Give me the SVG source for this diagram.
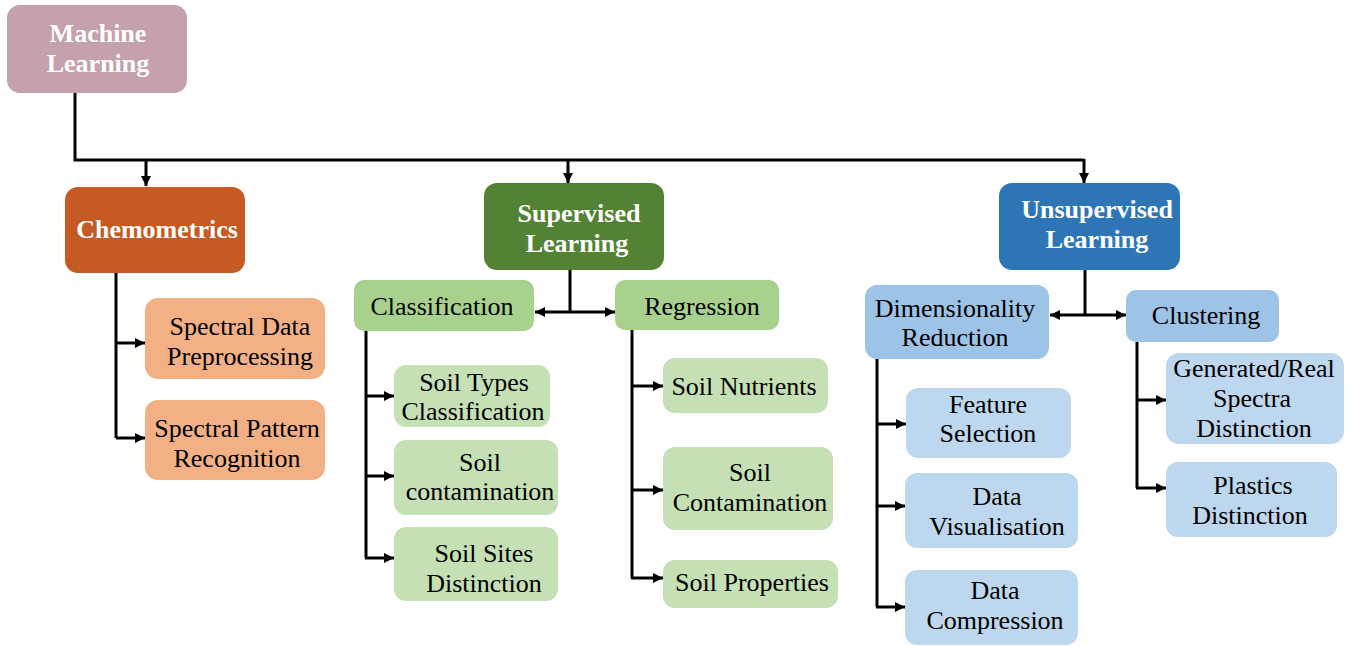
<svg xmlns="http://www.w3.org/2000/svg" width="1361" height="646" viewBox="0 0 1361 646">
<defs>
<marker id="ah" viewBox="0 0 10 10" refX="10" refY="5" markerWidth="3.4" markerHeight="3.4" markerUnits="strokeWidth" orient="auto-start-reverse">
<path d="M0,0 L10,5 L0,10 z" fill="#000"/>
</marker>
</defs>
<style>
.t{font-family:"Liberation Serif","Times New Roman",serif;font-size:26px;fill:#000;text-anchor:middle}
.h{font-family:"Liberation Serif","Times New Roman",serif;font-size:26px;font-weight:bold;fill:#fff;text-anchor:middle}
.c{fill:none;stroke:#000;stroke-width:3}
.a{fill:none;stroke:#000;stroke-width:3;marker-end:url(#ah)}
.d{fill:none;stroke:#000;stroke-width:3;marker-start:url(#ah);marker-end:url(#ah)}
</style>
<rect width="1361" height="646" fill="#fff"/>
<g id="connectors">
<polyline class="c" points="75,93 75,160 1084,160"/>
<line class="a" x1="146" y1="159" x2="146" y2="186"/>
<line class="a" x1="568" y1="159" x2="568" y2="183"/>
<line class="a" x1="1084" y1="159" x2="1084" y2="183"/>
<polyline class="c" points="116,273 116,438"/>
<line class="a" x1="116" y1="343" x2="145" y2="343"/>
<line class="a" x1="116" y1="438" x2="145" y2="438"/>
<line class="c" x1="570" y1="270" x2="570" y2="312"/>
<line class="d" x1="535" y1="312" x2="615" y2="312"/>
<line class="c" x1="366" y1="331" x2="366" y2="558"/>
<line class="a" x1="365" y1="396" x2="394" y2="396"/>
<line class="a" x1="365" y1="476" x2="394" y2="476"/>
<line class="a" x1="365" y1="558" x2="394" y2="558"/>
<line class="c" x1="632" y1="330" x2="632" y2="578"/>
<line class="a" x1="631" y1="386" x2="663" y2="386"/>
<line class="a" x1="631" y1="490" x2="663" y2="490"/>
<line class="a" x1="631" y1="578" x2="663" y2="578"/>
<line class="c" x1="1085" y1="270" x2="1085" y2="315"/>
<line class="d" x1="1050" y1="315" x2="1126" y2="315"/>
<line class="c" x1="877" y1="359" x2="877" y2="607"/>
<line class="a" x1="876" y1="424" x2="906" y2="424"/>
<line class="a" x1="876" y1="506" x2="905" y2="506"/>
<line class="a" x1="876" y1="607" x2="905" y2="607"/>
<line class="c" x1="1137" y1="342" x2="1137" y2="488"/>
<line class="a" x1="1136" y1="400" x2="1166" y2="400"/>
<line class="a" x1="1136" y1="488" x2="1166" y2="488"/>
</g>
<g id="machine-learning"><rect x="7" y="5" width="180" height="88" rx="13" fill="#c5a0ad"/><text class="h" x="98" y="42">Machine</text><text class="h" x="98" y="72">Learning</text></g>
<g id="chemometrics"><rect x="65" y="187" width="180" height="86" rx="13" fill="#c55a22"/><text class="h" x="157" y="238">Chemometrics</text></g>
<g id="spectral-data"><rect x="145" y="298" width="180" height="81" rx="13" fill="#f2b084"/><text class="t" x="240" y="335">Spectral Data</text><text class="t" x="240" y="365">Preprocessing</text></g>
<g id="spectral-pattern"><rect x="145" y="400" width="180" height="80" rx="13" fill="#f2b084"/><text class="t" x="237" y="437">Spectral Pattern</text><text class="t" x="237" y="467">Recognition</text></g>
<g id="supervised"><rect x="484" y="183" width="180" height="87" rx="13" fill="#548235"/><text class="h" x="579" y="222">Supervised</text><text class="h" x="577" y="252">Learning</text></g>
<g id="classification"><rect x="354" y="280" width="180" height="51" rx="10" fill="#a9d18e"/><text class="t" x="442" y="315">Classification</text></g>
<g id="regression"><rect x="615" y="280" width="164" height="50" rx="10" fill="#a9d18e"/><text class="t" x="702" y="315">Regression</text></g>
<g id="soil-types"><rect x="394" y="365" width="156" height="62" rx="12" fill="#c5e0b4"/><text class="t" x="474" y="391">Soil Types</text><text class="t" x="473" y="420">Classification</text></g>
<g id="soil-contamination-c"><rect x="394" y="440" width="164" height="75" rx="12" fill="#c5e0b4"/><text class="t" x="480" y="471">Soil</text><text class="t" x="480" y="500">contamination</text></g>
<g id="soil-sites"><rect x="394" y="527" width="164" height="74" rx="12" fill="#c5e0b4"/><text class="t" x="484" y="562">Soil Sites</text><text class="t" x="484" y="592">Distinction</text></g>
<g id="soil-nutrients"><rect x="663" y="358" width="165" height="55" rx="12" fill="#c5e0b4"/><text class="t" x="744" y="395">Soil Nutrients</text></g>
<g id="soil-contamination-r"><rect x="663" y="447" width="170" height="83" rx="12" fill="#c5e0b4"/><text class="t" x="750" y="481">Soil</text><text class="t" x="750" y="511">Contamination</text></g>
<g id="soil-properties"><rect x="663" y="560" width="175" height="48" rx="12" fill="#c5e0b4"/><text class="t" x="752" y="591">Soil Properties</text></g>
<g id="unsupervised"><rect x="999" y="183" width="181" height="87" rx="13" fill="#2e75b6"/><text class="h" x="1097" y="218">Unsupervised</text><text class="h" x="1097" y="248">Learning</text></g>
<g id="dimensionality"><rect x="865" y="285" width="184" height="74" rx="12" fill="#9dc3e6"/><text class="t" x="955" y="317">Dimensionality</text><text class="t" x="955" y="346">Reduction</text></g>
<g id="clustering"><rect x="1126" y="290" width="153" height="52" rx="10" fill="#9dc3e6"/><text class="t" x="1206" y="324">Clustering</text></g>
<g id="feature-selection"><rect x="906" y="388" width="165" height="70" rx="12" fill="#bdd7ee"/><text class="t" x="988" y="413">Feature</text><text class="t" x="988" y="442">Selection</text></g>
<g id="data-visualisation"><rect x="905" y="473" width="173" height="75" rx="12" fill="#bdd7ee"/><text class="t" x="997" y="505">Data</text><text class="t" x="997" y="535">Visualisation</text></g>
<g id="data-compression"><rect x="905" y="570" width="173" height="75" rx="12" fill="#bdd7ee"/><text class="t" x="995" y="599">Data</text><text class="t" x="995" y="629">Compression</text></g>
<g id="generated-real"><rect x="1166" y="353" width="178" height="91" rx="13" fill="#bdd7ee"/><text class="t" x="1254" y="377">Generated/Real</text><text class="t" x="1252" y="407">Spectra</text><text class="t" x="1254" y="437">Distinction</text></g>
<g id="plastics"><rect x="1166" y="462" width="171" height="75" rx="12" fill="#bdd7ee"/><text class="t" x="1253" y="494">Plastics</text><text class="t" x="1250" y="524">Distinction</text></g>
</svg>
